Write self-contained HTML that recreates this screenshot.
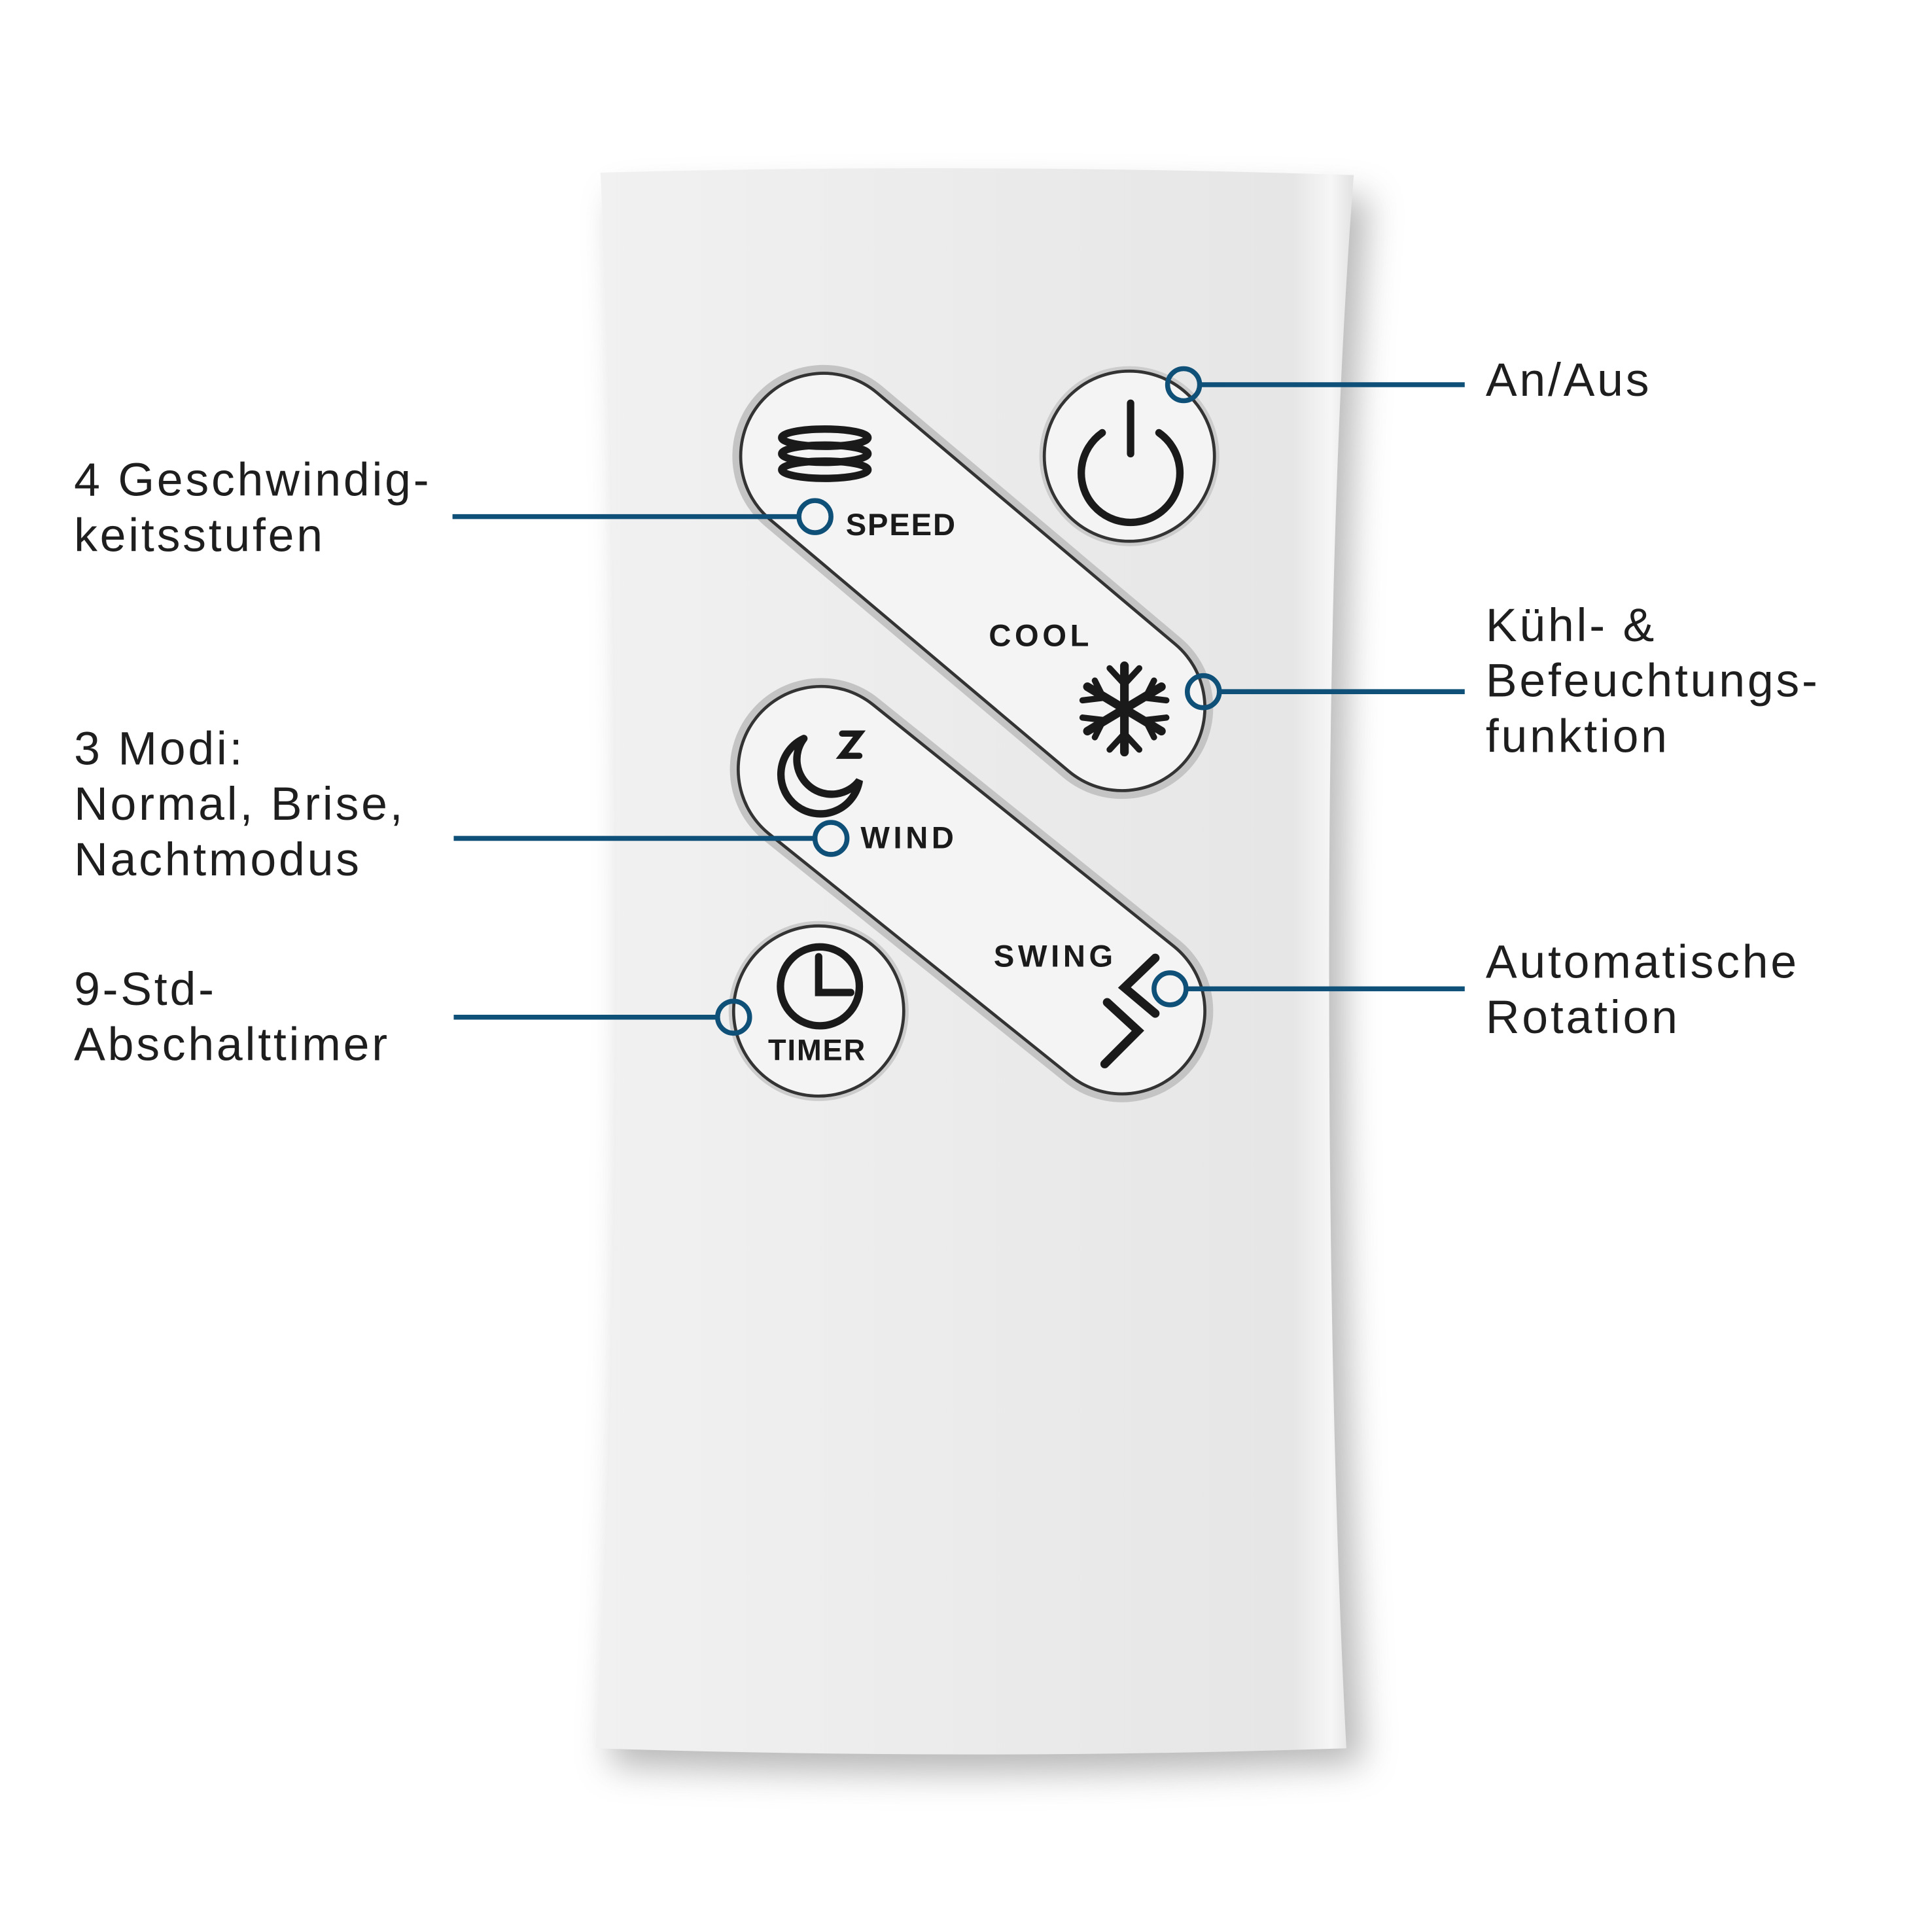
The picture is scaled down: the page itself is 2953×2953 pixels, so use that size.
<!DOCTYPE html>
<html><head><meta charset="utf-8"><style>
html,body{margin:0;padding:0;background:#fff;}
svg{display:block}
text{font-family:"Liberation Sans",sans-serif;}
</style></head><body>
<svg width="2953" height="2953" viewBox="0 0 1567 1567" xmlns="http://www.w3.org/2000/svg">
<defs>
<filter id="sh" x="-20%" y="-20%" width="140%" height="140%"><feGaussianBlur stdDeviation="14"/></filter>
<linearGradient id="body" x1="0" x2="1" y1="0" y2="0">
<stop offset="0" stop-color="#f1f1f1"/><stop offset="0.5" stop-color="#ebebeb"/><stop offset="0.92" stop-color="#e6e6e6"/><stop offset="0.97" stop-color="#f6f6f6"/><stop offset="1" stop-color="#e2e2e2"/>
</linearGradient>
</defs>
<rect width="1567" height="1567" fill="#fff"/>
<path d="M500 160 Q800 150 1110 160 Q1090 400 1090 780 Q1090 1150 1105 1430 Q800 1445 495 1432 Q510 1150 510 780 Q510 400 500 160Z" fill="#999" filter="url(#sh)" opacity="0.7"/>
<path d="M487 140 Q790 132 1098 142 Q1078 400 1078 780 Q1078 1150 1092 1418 Q790 1428 483 1418 Q500 1150 500 780 Q500 400 487 140Z" fill="url(#body)"/>
<g stroke-linecap="round">
<line x1="668" y1="370" x2="910" y2="574" stroke="#c4c4c4" stroke-width="148"/>
<line x1="668" y1="370" x2="910" y2="574" stroke="#333" stroke-width="137"/>
<line x1="668" y1="370" x2="910" y2="574" stroke="#f4f4f4" stroke-width="132"/>
<line x1="666" y1="624" x2="910" y2="820" stroke="#c4c4c4" stroke-width="148"/>
<line x1="666" y1="624" x2="910" y2="820" stroke="#333" stroke-width="137"/>
<line x1="666" y1="624" x2="910" y2="820" stroke="#f4f4f4" stroke-width="132"/>
</g>
<circle cx="916" cy="370" r="73" fill="#ccc"/>
<circle cx="916" cy="370" r="69" fill="#f4f4f4" stroke="#333" stroke-width="2.5"/>
<circle cx="664" cy="820" r="73" fill="#ccc"/>
<circle cx="664" cy="820" r="69" fill="#f4f4f4" stroke="#333" stroke-width="2.5"/>
<g fill="none" stroke="#1a1a1a" stroke-width="6" stroke-linecap="round">
<path d="M894 351 A40 40 0 1 0 940 351"/>
<line x1="917" y1="327" x2="917" y2="368"/>
<ellipse cx="669" cy="355" rx="35" ry="7"/>
<ellipse cx="669" cy="368" rx="35" ry="7"/>
<ellipse cx="669" cy="381" rx="35" ry="7"/>
<circle cx="665" cy="800" r="32"/>
<path d="M664 776 V805 H690"/>
<path d="M652 599 A32 32 0 1 0 697 633 A20 20 0 0 1 652 599"/>
<path d="M683 595 H697 L683 613 H697" stroke-width="5"/>
<path d="M937 777 L912 801 L937 822" stroke-width="7"/>
<path d="M898 813 L923 836 L896 863" stroke-width="7"/>
<g stroke-width="7">
<line x1="912" y1="540" x2="912" y2="610"/>
<line x1="882" y1="557" x2="942" y2="593"/>
<line x1="882" y1="593" x2="942" y2="557"/>
<path d="M900 542 L912 555 L924 542 M900 608 L912 595 L924 608 M878 568 L895 566 L888 552 M946 582 L929 584 L936 598 M878 582 L895 584 L888 598 M946 568 L929 566 L936 552" stroke-width="5"/>
</g>
</g>
<g fill="#1a1a1a" font-weight="bold" font-size="25" style="font-family:'DejaVu Sans Condensed','Liberation Sans',sans-serif">
<text x="686" y="434" letter-spacing="1">SPEED</text>
<text x="802" y="524" letter-spacing="3">COOL</text>
<text x="698" y="688" letter-spacing="3">WIND</text>
<text x="806" y="784" letter-spacing="3">SWING</text>
<text x="623" y="860" letter-spacing="1" font-size="24">TIMER</text>
</g>
<g stroke="#0f5078" stroke-width="4" fill="none">
<line x1="974" y1="312" x2="1188" y2="312"/><circle cx="960" cy="312" r="13"/>
<line x1="367" y1="419" x2="647" y2="419"/><circle cx="661" cy="419" r="13"/>
<line x1="990" y1="561" x2="1188" y2="561"/><circle cx="976" cy="561" r="13"/>
<line x1="368" y1="680" x2="660" y2="680"/><circle cx="674" cy="680" r="13"/>
<line x1="963" y1="802" x2="1188" y2="802"/><circle cx="949" cy="802" r="13"/>
<line x1="368" y1="825" x2="581" y2="825"/><circle cx="595" cy="825" r="13"/>
</g>
<g fill="#1e1e1e" font-size="38" letter-spacing="2">
<text x="1205" y="321">An/Aus</text>
<text x="60" y="402">4 Geschwindig-</text>
<text x="60" y="447">keitsstufen</text>
<text x="1205" y="520">Kühl- &amp;</text>
<text x="1205" y="565">Befeuchtungs-</text>
<text x="1205" y="610">funktion</text>
<text x="60" y="620">3 Modi:</text>
<text x="60" y="665">Normal, Brise,</text>
<text x="60" y="710">Nachtmodus</text>
<text x="1205" y="793">Automatische</text>
<text x="1205" y="838">Rotation</text>
<text x="60" y="815">9-Std-</text>
<text x="60" y="860">Abschalttimer</text>
</g>
</svg>
</body></html>
